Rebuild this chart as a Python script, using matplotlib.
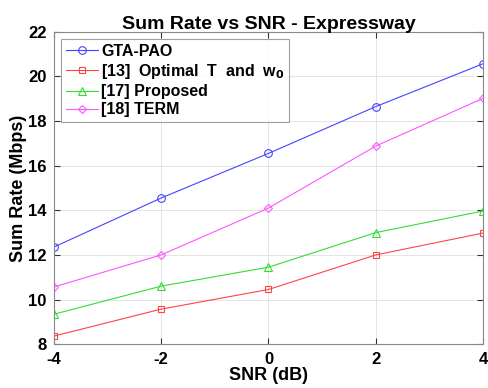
import matplotlib
matplotlib.use("Agg")
import matplotlib.pyplot as plt

plt.rcParams['font.family'] = ['Liberation Sans', 'DejaVu Sans']
plt.rcParams['font.weight'] = 'bold'
plt.rcParams['mathtext.default'] = 'bf'
plt.rcParams['axes.unicode_minus'] = False

# Data
snr = [-4, -2, 0, 2, 4]
gta_pao = [12.35, 14.55, 16.55, 18.65, 20.57]
optimal_t_w0 = [8.36, 9.57, 10.45, 12.0, 12.98]
proposed_17 = [9.34, 10.6, 11.45, 13.0, 13.97]
term_18 = [10.56, 12.0, 14.1, 16.88, 19.02]

labels = ["GTA-PAO", "[13]  Optimal  T  and  w$_0$", "[17] Proposed", "[18] TERM"]

fig = plt.figure(figsize=(4.89, 3.88), dpi=100, facecolor="white")
ax = fig.add_axes([0.110, 0.113, 0.878, 0.805])

ax.plot(snr, gta_pao, color="#4444ff", lw=0.8, marker="o", ms=5.5, mfc="none", mew=0.8, label=labels[0])
ax.plot(snr, optimal_t_w0, color="#ff4444", lw=0.8, marker="s", ms=5, mfc="none", mew=0.8, label=labels[1])
ax.plot(snr, proposed_17, color="#33dd33", lw=0.8, marker="^", ms=5.5, mfc="none", mew=0.8, label=labels[2])
ax.plot(snr, term_18, color="#ff55ff", lw=0.8, marker="D", ms=4.5, mfc="none", mew=0.8, label=labels[3])

ax.set_xlim(-4, 4)
ax.set_ylim(8, 22)
ax.set_xticks([-4, -2, 0, 2, 4])
ax.set_yticks(range(8, 23, 2))
ax.grid(True, color="#e4e4e4", lw=0.7)
ax.tick_params(direction="in", labelsize=12, length=4, color="#333333", top=True, right=True)
ax.tick_params(axis="y", pad=5)
ax.tick_params(axis="x", pad=6)
for s in ax.spines.values():
    s.set_color("#888888")
    s.set_linewidth(0.8)

ax.set_xlabel("SNR (dB)", fontsize=13, fontweight="bold", labelpad=0)
ax.set_ylabel("Sum Rate (Mbps)", fontsize=13, fontweight="bold", labelpad=1)
ax.set_title("Sum Rate vs SNR - Expressway", fontsize=14, fontweight="bold", pad=2)

leg = ax.legend(loc="upper left", fontsize=11.5, frameon=True, fancybox=False,
                edgecolor="#888888", borderpad=0.3, labelspacing=0.2,
                handlelength=2.0, handletextpad=0.2, borderaxespad=0.45)
leg.get_frame().set_linewidth(0.8)
for t in leg.get_texts():
    t.set_fontweight("bold")

fig.savefig("out.png", dpi=100, facecolor="white")
